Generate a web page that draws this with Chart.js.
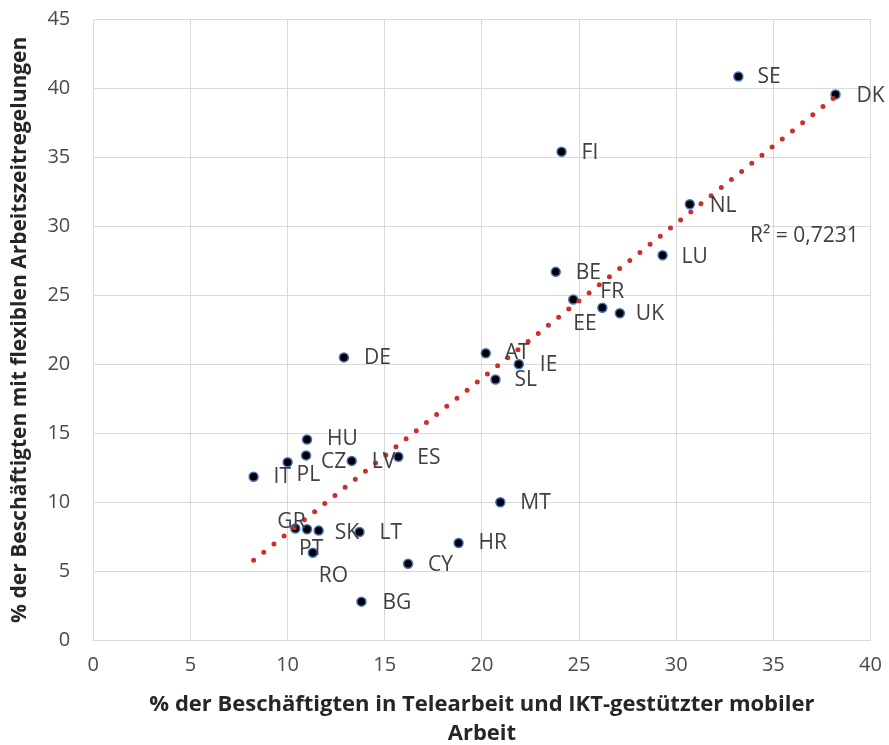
<!DOCTYPE html>
<html>
<head>
<meta charset="utf-8">
<script src="https://cdn.jsdelivr.net/npm/chart.js@4/dist/chart.umd.min.js"></script>
<style>
  html, body { margin: 0; padding: 0; background: #ffffff; }
  #wrap { width: 889px; height: 745px; position: relative; }
</style>
</head>
<body>
<div id="wrap"><canvas id="c"></canvas></div>
<script>
// ---- data ----
const countries = ['SE','DK','FI','NL','LU','BE','EE','FR','UK','DE','AT','IE','SL','HU','CZ','PL','IT','LV','ES','MT','HR','GR','PT','SK','LT','RO','CY','BG'];
const telework  = [33.2, 38.2, 24.1, 30.7, 29.3, 23.8, 24.7, 26.2, 27.1, 12.9, 20.2, 21.9, 20.7, 11.0, 10.95, 10.0, 8.25, 13.3, 15.7, 20.95, 18.8, 10.4, 11.0, 11.6, 13.7, 11.3, 16.2, 13.8];
const flexible  = [40.85, 39.55, 35.4, 31.6, 27.9, 26.7, 24.7, 24.1, 23.7, 20.5, 20.8, 20.0, 18.9, 14.55, 13.4, 12.9, 11.85, 13.0, 13.3, 10.0, 7.05, 8.1, 8.05, 7.95, 7.85, 6.35, 5.55, 2.8];
const trendX = [8.25, 38.2];
const trendY = [5.8, 39.4];
const rSquaredText = 'R² = 0,7231';
const xTitle = ['% der Beschäftigten in Telearbeit und IKT-gestützter mobiler', 'Arbeit'];
const yTitle = '% der Beschäftigten mit flexiblen Arbeitszeitregelungen';

// ---- label placement (pixel offsets from the point) ----
const labelOffsets = {
  SE:[19,0], DK:[21,2], FI:[20,1], NL:[20,2], LU:[19,2], BE:[20,1], EE:[0,25], FR:[-2,-16],
  UK:[16,1], DE:[20,1], AT:[19,0], IE:[21,1], SL:[19,1], HU:[20,0], CZ:[15,7], PL:[9,13],
  IT:[20,0], LV:[20,1], ES:[19,1], MT:[20,1], HR:[20,0], GR:[-18,-7], PT:[-8,20], SK:[16,2],
  LT:[20,1], RO:[6,23], CY:[20,1], BG:[21,1]
};
const rSquaredPos = {x: 33.8, y: 29.3};

const points = countries.map((c, i) => ({x: telework[i], y: flexible[i]}));
const trend = trendX.map((x, i) => ({x: x, y: trendY[i]}));

const labelPlugin = {
  id: 'labels',
  afterDatasetsDraw(chart) {
    const ctx = chart.ctx;
    const meta = chart.getDatasetMeta(1);
    ctx.save();
    ctx.font = '21px "Open Sans"';
    ctx.fillStyle = '#404040';
    ctx.textAlign = 'left';
    ctx.textBaseline = 'middle';
    meta.data.forEach((el, i) => {
      const off = labelOffsets[countries[i]] || [18, 0];
      ctx.fillText(countries[i], el.x + off[0], el.y + off[1]);
    });
    const xs = chart.scales.x, ys = chart.scales.y;
    ctx.fillText(rSquaredText, xs.getPixelForValue(rSquaredPos.x), ys.getPixelForValue(rSquaredPos.y));
    ctx.restore();
  }
};

new Chart(document.getElementById('c'), {
  type: 'scatter',
  data: {
    datasets: [
      {
        type: 'line',
        label: 'Trend',
        data: trend,
        borderColor: '#C9302C',
        borderWidth: 5,
        borderDash: [0, 13],
        borderCapStyle: 'round',
        pointRadius: 0,
        fill: false,
        order: 0
      },
      {
        label: 'Länder',
        data: points,
        backgroundColor: '#000000',
        borderColor: '#4472C4',
        borderWidth: 1.5,
        pointRadius: 4.5,
        pointHoverRadius: 4.5,
        order: 1
      }
    ]
  },
  options: {
    responsive: true,
    maintainAspectRatio: false,
    animation: false,
    events: [],
    layout: { padding: { left: 0, right: 18.5, top: 19.3, bottom: 0 } },
    plugins: {
      legend: { display: false },
      tooltip: { enabled: false }
    },
    scales: {
      x: {
        type: 'linear',
        min: 0, max: 40,
        ticks: { stepSize: 5, color: '#4a4a4a', font: { family: 'Open Sans', size: 20 }, padding: 13 },
        grid: { color: '#d9d9d9', lineWidth: 1, drawTicks: false },
        border: { color: '#d9d9d9' },
        title: {
          display: true,
          text: xTitle,
          color: '#262626',
          font: { family: 'Open Sans', size: 22, weight: 'bold', lineHeight: '29px' },
          padding: { top: 0, bottom: -3 }
        },
        afterFit(s) { s.height = 104.7; s.paddingLeft = 0; s.paddingRight = 0; }
      },
      y: {
        type: 'linear',
        min: 0, max: 45,
        ticks: { stepSize: 5, color: '#4a4a4a', font: { family: 'Open Sans', size: 20 }, padding: 23 },
        grid: { color: '#d9d9d9', lineWidth: 1, drawTicks: false },
        border: { color: '#d9d9d9' },
        title: {
          display: true,
          text: yTitle,
          color: '#262626',
          font: { family: 'Open Sans', size: 21, weight: 'bold', lineHeight: '26px' },
          padding: { top: 7, bottom: 0 }
        },
        afterFit(s) { s.width = 93.3; s.paddingTop = 0; s.paddingBottom = 0; }
      }
    }
  },
  plugins: [labelPlugin]
});
</script>
</body>
</html>
